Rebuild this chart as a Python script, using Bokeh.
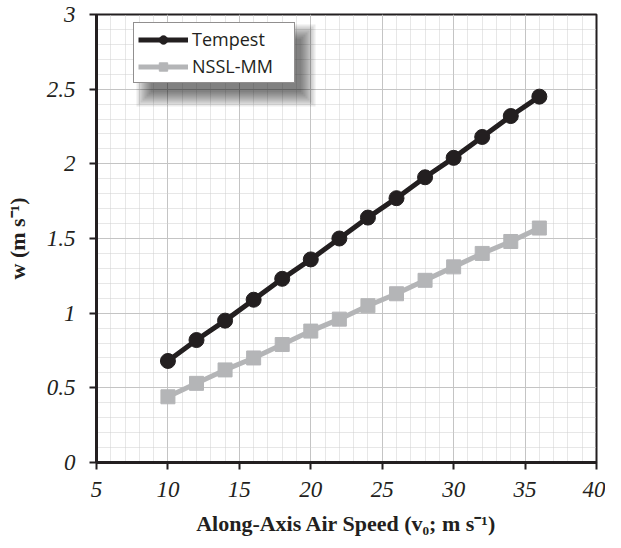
from bokeh.plotting import figure
from bokeh.models import (FixedTicker, Range1d, Legend, LegendItem, BoxAnnotation)
from bokeh.embed import file_html
from bokeh.resources import INLINE

# ---- data ----
speed = [10, 12, 14, 16, 18, 20, 22, 24, 26, 28, 30, 32, 34, 36]
tempest = [0.68, 0.82, 0.95, 1.09, 1.23, 1.36, 1.50, 1.64, 1.77, 1.91, 2.04, 2.18, 2.32, 2.45]
nssl_mm = [0.44, 0.53, 0.62, 0.70, 0.79, 0.88, 0.96, 1.05, 1.13, 1.22, 1.31, 1.40, 1.48, 1.57]
x_ticks = [5, 10, 15, 20, 25, 30, 35, 40]
y_ticks = [0, 0.5, 1, 1.5, 2, 2.5, 3]
y_tick_labels = ["0", "0.5", "1", "1.5", "2", "2.5", "3"]
series_names = ["Tempest", "NSSL-MM"]

x_minor = [5 + i for i in range(36)]
y_minor = [round(0.1 * i, 2) for i in range(31)]

X0, X1, Y0, Y1 = 5, 40, 0, 3
W, H = 605, 540
FRAME_W, FRAME_H = 500, 448
BL, BT = 96, 14

p = figure(width=W, height=H, output_backend="svg", toolbar_location=None,
           x_range=Range1d(X0, X1), y_range=Range1d(Y0, Y1),
           min_border_left=BL, min_border_right=W - BL - FRAME_W,
           min_border_top=BT, min_border_bottom=H - BT - FRAME_H)
p.background_fill_color = "white"
p.border_fill_color = "white"
p.outline_line_color = "#231f20"
p.outline_line_width = 2

p.xaxis.ticker = FixedTicker(ticks=x_ticks, minor_ticks=x_minor)
p.yaxis.ticker = FixedTicker(ticks=y_ticks, minor_ticks=y_minor)
p.yaxis.major_label_overrides = {t: l for t, l in zip(y_ticks, y_tick_labels)}
p.xaxis.major_label_overrides = {t: str(t) for t in x_ticks}

for ax in (p.xaxis, p.yaxis):
    ax.axis_line_width = 3
    ax.axis_line_color = "#231f20"
    ax.major_tick_line_width = 2
    ax.major_tick_line_color = "#231f20"
    ax.major_tick_out = 7
    ax.major_tick_in = 0
    ax.minor_tick_line_color = None
    ax.major_label_text_font = "Liberation Serif"
    ax.major_label_text_font_style = "italic"
    ax.major_label_text_font_size = "23px"
    ax.major_label_text_color = "#231f20"
    ax.axis_label_text_font = "Liberation Serif"
    ax.axis_label_text_font_style = "bold"
    ax.axis_label_text_font_size = "22px"
    ax.axis_label_text_color = "#231f20"

p.xaxis.axis_label = "Along-Axis Air Speed (v\u2080; m s\u207b\u00b9)"
p.yaxis.axis_label = "w (m s\u207b\u00b9)"
p.xaxis.major_label_standoff = 12
p.yaxis.major_label_standoff = 14
p.xaxis.axis_label_standoff = 11
p.yaxis.axis_label_standoff = 14

for g in (p.xgrid, p.ygrid):
    g.grid_line_color = "#c4c4c4"
    g.grid_line_width = 1
    g.minor_grid_line_color = "#cfcfcf"
    g.minor_grid_line_dash = "1 1"
    g.minor_grid_line_width = 1


# legend drop shadow (decoration), given in page pixels
def px_to_x(px):
    return X0 + (px - BL) * (X1 - X0) / FRAME_W


def px_to_y(py):
    return Y1 - (py - BT) * (Y1 - Y0) / FRAME_H


shadow_core = (150, 38, 301, 92)  # left, top, right, bottom
for k in range(8):
    l, t, r, b = shadow_core
    grow = 2 * k
    p.add_layout(BoxAnnotation(left=px_to_x(l - grow), right=px_to_x(r + grow),
                               top=px_to_y(t - grow), bottom=px_to_y(b + grow),
                               fill_color="black", fill_alpha=0.08,
                               line_color=None, level="underlay"))

r1 = p.line(speed, tempest, line_color="#231f20", line_width=5)
c1 = p.scatter(speed, tempest, marker="circle", size=15, fill_color="#231f20", line_color="#231f20")
r2 = p.line(speed, nssl_mm, line_color="#b4b5b7", line_width=5)
c2 = p.scatter(speed, nssl_mm, marker="square", size=14, fill_color="#b4b5b7", line_color="#b4b5b7")

legend = Legend(items=[LegendItem(label=series_names[0], renderers=[r1, c1]),
                       LegendItem(label=series_names[1], renderers=[r2, c2])],
                location=(37, 379), orientation="vertical")
legend.label_text_font = "Open Sans"
legend.label_text_font_size = "18px"
legend.label_text_color = "#231f20"
legend.glyph_width = 50
legend.glyph_height = 21
legend.label_height = 21
legend.label_width = 98
legend.label_standoff = 4
legend.spacing = 3
legend.padding = 4
legend.margin = 0
legend.border_line_color = "#231f20"
legend.border_line_width = 1.5
legend.background_fill_color = "white"
legend.background_fill_alpha = 1
p.add_layout(legend)

open("out.html", "w").write(file_html(p, INLINE))
